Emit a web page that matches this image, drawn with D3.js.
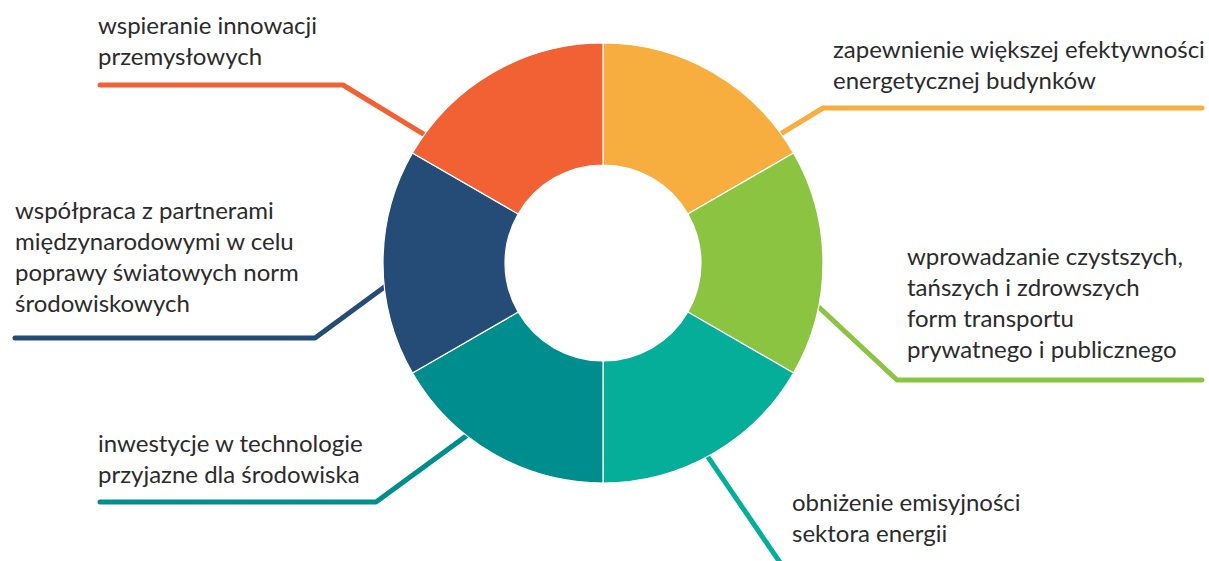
<!DOCTYPE html>
<html>
<head>
<meta charset="utf-8">
<script src="https://cdn.jsdelivr.net/npm/d3@7"></script>
<style>
  body { margin: 0; background: #fff; }
  svg { display: block; }
</style>
</head>
<body>
<svg id="chart" width="1209" height="561"></svg>
<script>
// kategorie (od góry, zgodnie z ruchem wskazówek zegara)
var categories = [
  "zapewnienie większej efektywności energetycznej budynków",
  "wprowadzanie czystszych, tańszych i zdrowszych form transportu prywatnego i publicznego",
  "obniżenie emisyjności sektora energii",
  "inwestycje w technologie przyjazne dla środowiska",
  "współpraca z partnerami międzynarodowymi w celu poprawy światowych norm środowiskowych",
  "wspieranie innowacji przemysłowych"
];
var values = [1, 1, 1, 1, 1, 1];
var labelLines = [
  ["zapewnienie większej efektywności", "energetycznej budynków"],
  ["wprowadzanie czystszych,", "tańszych i zdrowszych", "form transportu", "prywatnego i publicznego"],
  ["obniżenie emisyjności", "sektora energii"],
  ["inwestycje w technologie", "przyjazne dla środowiska"],
  ["współpraca z partnerami", "międzynarodowymi w celu", "poprawy światowych norm", "środowiskowych"],
  ["wspieranie innowacji", "przemysłowych"]
];
var colors = ["#F7AE3F", "#8BC441", "#04AE99", "#008D8E", "#244C77", "#F26134"];

// rozmieszczenie etykiet i linii odniesienia
var layout = [
  { tx: 833, ty: 57.5, hit: 54, elbow: [823, 108], end: [1202, 108] },
  { tx: 907, ty: 265, hit: 101.5, elbow: [897, 380], end: [1202, 380] },
  { tx: 792, ty: 511, hit: 151.6, elbow: [792, 580], end: [792, 580] },
  { tx: 98, ty: 452, hit: 218.3, elbow: [376, 502], end: [100, 502] },
  { tx: 15, ty: 219, hit: 263.7, elbow: [315, 338], end: [15, 338] },
  { tx: 98, ty: 34, hit: 305.7, elbow: [343, 85], end: [100, 85] }
];

var svg = d3.select("#chart");
var cx = 603, cy = 263, outerR = 220, innerR = 98, lineH = 31;

var pie = d3.pie().value(function(d) { return d; }).sort(null);
var arcs = pie(values);
var arc = d3.arc().innerRadius(innerR).outerRadius(outerR);

// linie odniesienia (pod pierścieniem)
var leaders = svg.append("g").attr("class", "leaders");
layout.forEach(function(l, i) {
  var a = l.hit * Math.PI / 180;
  var hx = cx + outerR * Math.sin(a), hy = cy - outerR * Math.cos(a);
  var dx = hx - l.elbow[0], dy = hy - l.elbow[1];
  var len = Math.sqrt(dx * dx + dy * dy);
  var tip = [hx + dx / len * 25, hy + dy / len * 25];
  leaders.append("path")
    .attr("d", d3.line()([l.end, l.elbow, tip]))
    .attr("fill", "none")
    .attr("stroke", colors[i])
    .attr("stroke-width", 5)
    .attr("stroke-linecap", "round")
    .attr("stroke-linejoin", "round");
});

// pierścień
var donut = svg.append("g").attr("transform", "translate(" + cx + "," + cy + ")");
donut.selectAll("path")
  .data(arcs)
  .join("path")
  .attr("d", arc)
  .attr("fill", function(d, i) { return colors[i]; })
  .attr("stroke", "#fff")
  .attr("stroke-width", 1.2);

// etykiety
var labels = svg.append("g").attr("class", "labels");
layout.forEach(function(l, i) {
  var t = labels.append("text")
    .attr("x", l.tx)
    .attr("y", l.ty)
    .attr("font-family", "Lato, sans-serif")
    .attr("font-size", 24)
    .attr("fill", "#2b2b2b");
  labelLines[i].forEach(function(s, j) {
    t.append("tspan")
      .attr("x", l.tx)
      .attr("dy", j === 0 ? 0 : lineH)
      .text(s);
  });
});
</script>
</body>
</html>
